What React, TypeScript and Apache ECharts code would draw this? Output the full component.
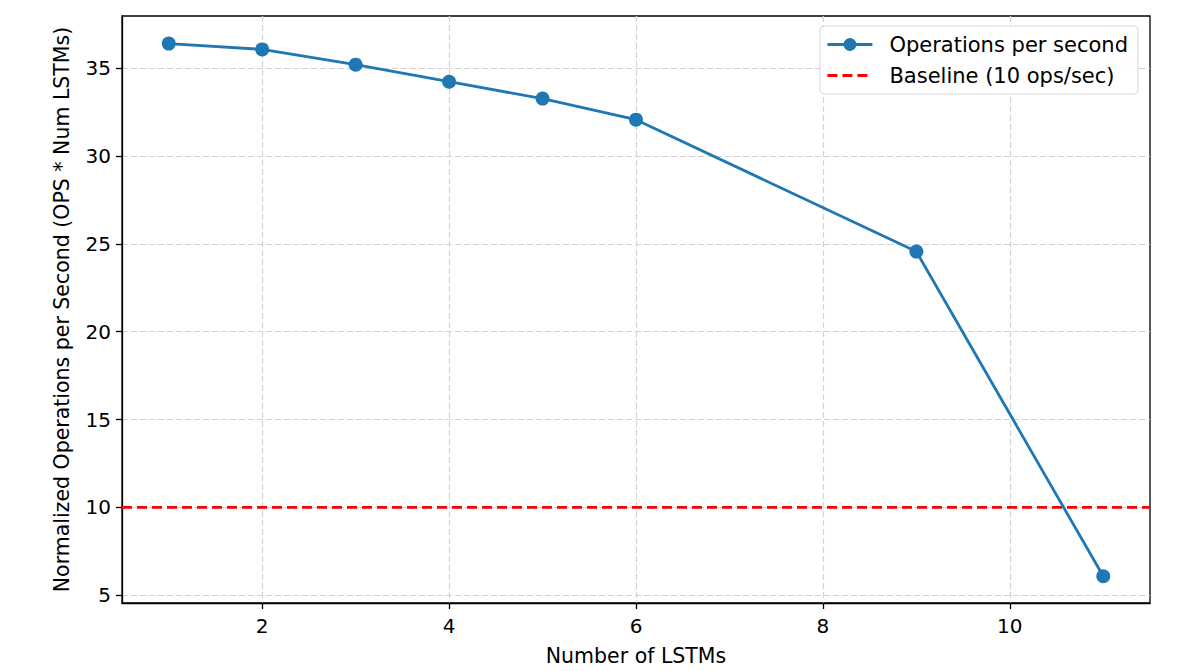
import React, { useEffect, useRef } from "react";
import * as echarts from "echarts";

const numLstms = [1, 2, 3, 4, 5, 6, 9, 11];
const opsPerSecond = [36.4, 36.07, 35.2, 34.23, 33.27, 32.07, 24.56, 6.08];
const baselineValue = 10;
const xTicks = [2, 4, 6, 8, 10];
const yTicks = [5, 10, 15, 20, 25, 30, 35];
const seriesNames = ["Operations per second", "Baseline (10 ops/sec)"];
const xTitle = "Number of LSTMs";
const yTitle = "Normalized Operations per Second (OPS * Num LSTMs)";

const X_MIN = 0.5;
const X_MAX = 11.5;
const Y_MIN = 4.56;
const Y_MAX = 37.97;

export default function App() {
  const ref = useRef<HTMLDivElement>(null);
  useEffect(() => {
    document.body.style.margin = "0";
    const chart = echarts.init(ref.current!, null, { renderer: "svg" });
    const font = "DejaVu Sans";
    const grid = { color: "#d3d3d3", type: [6, 3] as any, width: 1.2 };
    chart.setOption({
      animation: false,
      backgroundColor: "#fff",
      textStyle: { fontFamily: font },
      grid: {
        left: 122,
        right: 40,
        top: 16,
        bottom: 67,
        show: true,
        borderColor: "#000",
        borderWidth: 1.3,
        backgroundColor: "transparent",
      },
      legend: {
        orient: "vertical",
        right: 52,
        top: 26,
        itemWidth: 45,
        itemHeight: 16,
        itemGap: 10,
        padding: [8, 10, 8, 6],
        backgroundColor: "rgba(255,255,255,0.85)",
        borderColor: "#d6d6d6",
        borderWidth: 1,
        borderRadius: 4,
        textStyle: { fontFamily: font, fontSize: 21, color: "#000", padding: [0, 0, 0, 12] },
        data: [
          { name: seriesNames[0], lineStyle: { width: 2.8 } },
          { name: seriesNames[1], itemStyle: { opacity: 0 }, lineStyle: { width: 2.8 } },
        ],
      },
      xAxis: {
        type: "value",
        min: X_MIN,
        max: X_MAX,
        name: xTitle,
        nameLocation: "middle",
        nameGap: 42,
        nameTextStyle: { fontFamily: font, fontSize: 20.5, color: "#000" },
        axisLine: { show: true, onZero: false, lineStyle: { color: "#000", width: 1.3 } },
        axisTick: { show: true, length: 6, customValues: xTicks, lineStyle: { color: "#000", width: 1.3 } },
        axisLabel: { customValues: xTicks, fontFamily: font, fontSize: 20, color: "#000", margin: 13 },
        splitLine: { show: true, lineStyle: grid },
      },
      yAxis: {
        type: "value",
        min: Y_MIN,
        max: Y_MAX,
        name: yTitle,
        nameLocation: "middle",
        nameGap: 50,
        nameTextStyle: { fontFamily: font, fontSize: 20.5, color: "#000" },
        axisLine: { show: true, onZero: false, lineStyle: { color: "#000", width: 1.3 } },
        axisTick: { show: true, length: 6, customValues: yTicks, lineStyle: { color: "#000", width: 1.3 } },
        axisLabel: { customValues: yTicks, fontFamily: font, fontSize: 20, color: "#000", margin: 11 },
        splitLine: { show: true, lineStyle: grid },
      },
      series: [
        {
          name: seriesNames[0],
          type: "line",
          data: numLstms.map((x, i) => [x, opsPerSecond[i]]),
          symbol: "circle",
          symbolSize: 14,
          lineStyle: { color: "#1f77b4", width: 2.8 },
          itemStyle: { color: "#1f77b4" },
          z: 3,
        },
        {
          name: seriesNames[1],
          type: "line",
          data: [
            [X_MIN, baselineValue],
            [X_MAX, baselineValue],
          ],
          symbol: "none",
          lineStyle: { color: "#ff0000", width: 2.8, type: [10, 5] },
          itemStyle: { color: "#ff0000" },
          z: 2,
        },
      ],
    });
    return () => chart.dispose();
  }, []);
  return <div ref={ref} style={{ width: 1190, height: 671 }} />;
}
